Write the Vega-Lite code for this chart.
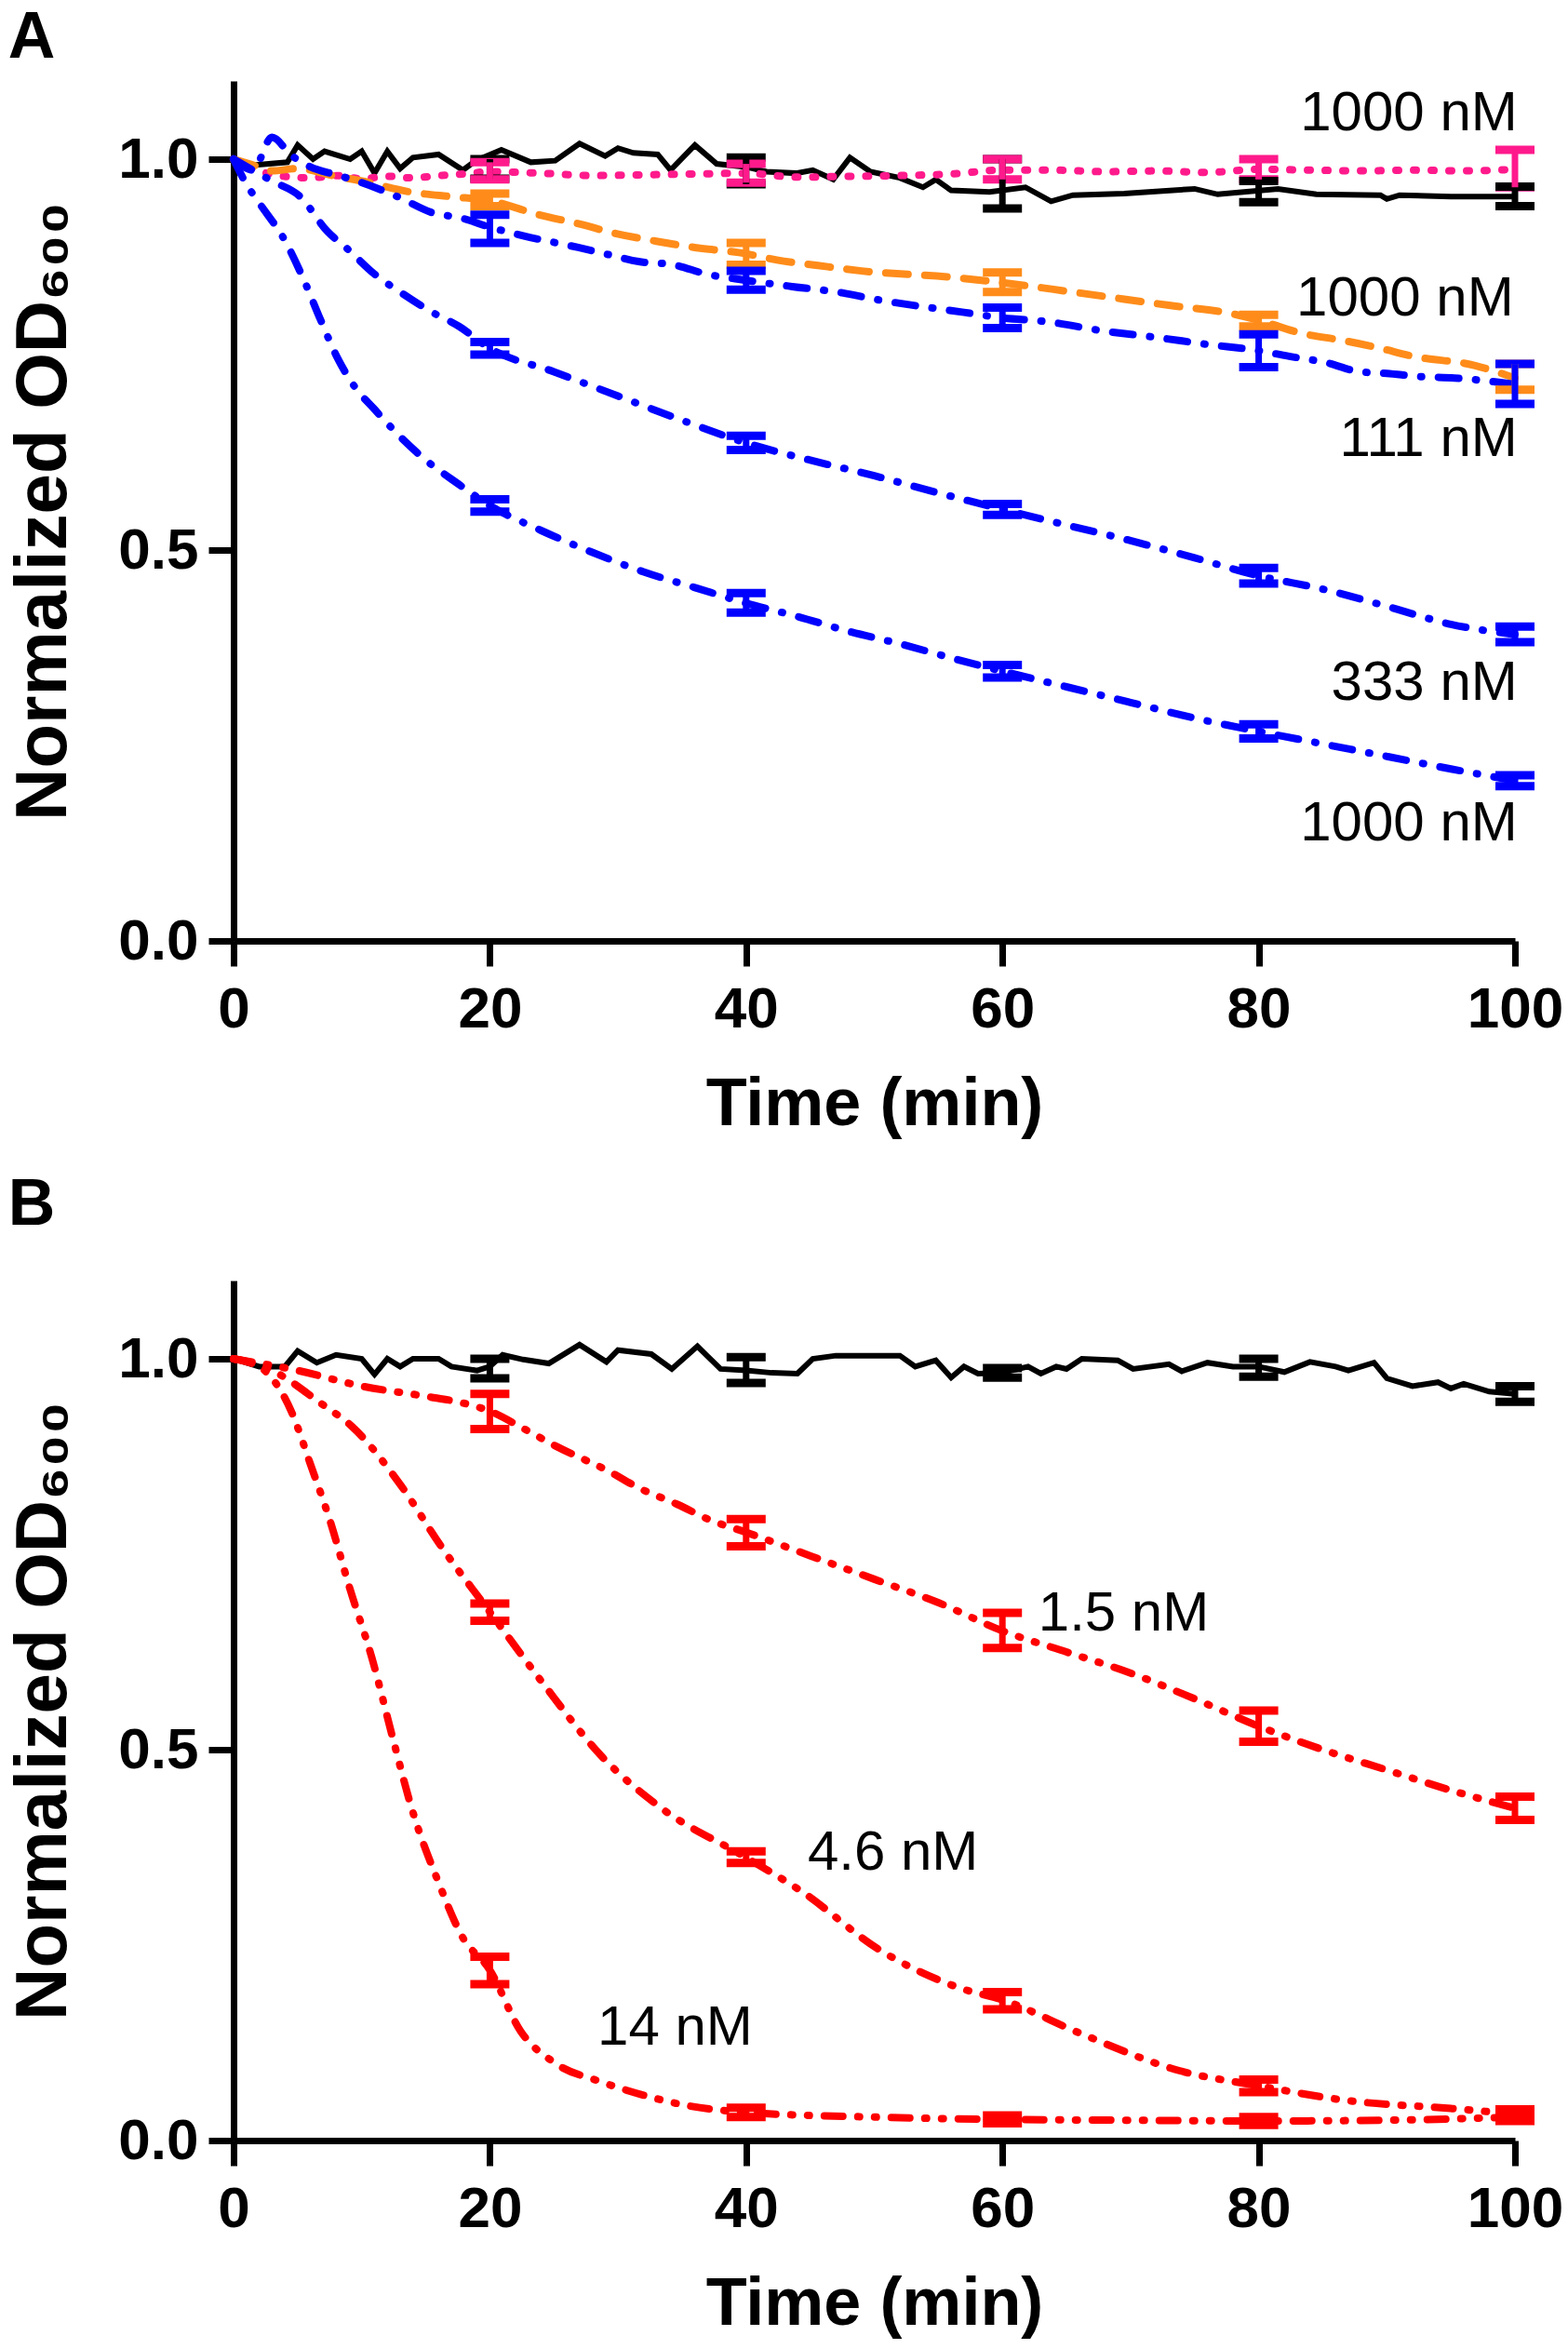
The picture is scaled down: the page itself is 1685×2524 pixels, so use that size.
{
  "$schema": "https://vega.github.io/schema/vega-lite/v6.json",
  "background": "white",
  "padding": {"left": 8, "top": 6, "right": 4, "bottom": 4},
  "spacing": 38,
  "resolve": {"scale": {"color": "independent", "strokeDash": "independent"}},
  "config": {
    "view": {"stroke": null},
    "font": "Liberation Sans",
    "axis": {
      "grid": false,
      "domainColor": "black",
      "domainWidth": 7,
      "tickColor": "black",
      "tickWidth": 7,
      "tickSize": 27,
      "labelFont": "Liberation Sans",
      "labelFontSize": 62,
      "labelFontWeight": "bold",
      "labelColor": "black",
      "labelOverlap": false,
      "labelFlush": false,
      "titleFont": "Liberation Sans",
      "titleFontSize": 72,
      "titleFontWeight": "bold",
      "titleColor": "black"
    },
    "title": {"fontSize": 70, "fontWeight": "bold", "anchor": "start", "frame": "bounds", "color": "black", "font": "Liberation Sans"}
  },
  "datasets": {
    "ctrlA": [
      {"t": 0, "v": 1.0}, {"t": 1.3, "v": 0.992}, {"t": 4.2, "v": 0.996}, {"t": 5.0, "v": 1.018}, {"t": 6.2, "v": 1.0},
      {"t": 7.1, "v": 1.01}, {"t": 9.1, "v": 1.0}, {"t": 10.0, "v": 1.01}, {"t": 11.0, "v": 0.982}, {"t": 12.0, "v": 1.01},
      {"t": 13.0, "v": 0.988}, {"t": 14.0, "v": 1.002}, {"t": 16.0, "v": 1.006}, {"t": 17.9, "v": 0.986}, {"t": 18.9, "v": 0.998},
      {"t": 20.9, "v": 1.012}, {"t": 23.2, "v": 0.996}, {"t": 25.1, "v": 0.998}, {"t": 27.0, "v": 1.02}, {"t": 29.0, "v": 1.004},
      {"t": 30.0, "v": 1.014}, {"t": 31.2, "v": 1.008}, {"t": 33.1, "v": 1.006}, {"t": 34.1, "v": 0.986}, {"t": 36.0, "v": 1.018},
      {"t": 37.7, "v": 0.994}, {"t": 40.0, "v": 0.99}, {"t": 41.6, "v": 0.984}, {"t": 43.9, "v": 0.982}, {"t": 45.2, "v": 0.986},
      {"t": 46.8, "v": 0.974}, {"t": 48.1, "v": 1.002}, {"t": 49.7, "v": 0.984}, {"t": 52.0, "v": 0.976}, {"t": 53.8, "v": 0.964},
      {"t": 54.8, "v": 0.974}, {"t": 56.0, "v": 0.96}, {"t": 59.0, "v": 0.958}, {"t": 61.8, "v": 0.964}, {"t": 63.8, "v": 0.946},
      {"t": 65.5, "v": 0.954}, {"t": 69.5, "v": 0.956}, {"t": 75.0, "v": 0.962}, {"t": 76.8, "v": 0.955}, {"t": 81.5, "v": 0.962},
      {"t": 84.5, "v": 0.955}, {"t": 89.5, "v": 0.954}, {"t": 90.0, "v": 0.949}, {"t": 91.0, "v": 0.954}, {"t": 95.0, "v": 0.952},
      {"t": 100, "v": 0.952}
    ],
    "curvesA": [
      {"s": "pink 1000 nM", "t": 0, "v": 1.0}, {"s": "pink 1000 nM", "t": 2, "v": 0.985}, {"s": "pink 1000 nM", "t": 4, "v": 0.978},
      {"s": "pink 1000 nM", "t": 6, "v": 0.976}, {"s": "pink 1000 nM", "t": 8, "v": 0.979}, {"s": "pink 1000 nM", "t": 10, "v": 0.975},
      {"s": "pink 1000 nM", "t": 12, "v": 0.978}, {"s": "pink 1000 nM", "t": 14, "v": 0.976}, {"s": "pink 1000 nM", "t": 16, "v": 0.979},
      {"s": "pink 1000 nM", "t": 18, "v": 0.981}, {"s": "pink 1000 nM", "t": 20, "v": 0.984}, {"s": "pink 1000 nM", "t": 24, "v": 0.982},
      {"s": "pink 1000 nM", "t": 28, "v": 0.979}, {"s": "pink 1000 nM", "t": 32, "v": 0.98}, {"s": "pink 1000 nM", "t": 36, "v": 0.981},
      {"s": "pink 1000 nM", "t": 40, "v": 0.982}, {"s": "pink 1000 nM", "t": 44, "v": 0.977}, {"s": "pink 1000 nM", "t": 48, "v": 0.978},
      {"s": "pink 1000 nM", "t": 52, "v": 0.979}, {"s": "pink 1000 nM", "t": 56, "v": 0.981}, {"s": "pink 1000 nM", "t": 60, "v": 0.986},
      {"s": "pink 1000 nM", "t": 64, "v": 0.986}, {"s": "pink 1000 nM", "t": 68, "v": 0.984}, {"s": "pink 1000 nM", "t": 72, "v": 0.985},
      {"s": "pink 1000 nM", "t": 76, "v": 0.983}, {"s": "pink 1000 nM", "t": 80, "v": 0.987}, {"s": "pink 1000 nM", "t": 84, "v": 0.986},
      {"s": "pink 1000 nM", "t": 88, "v": 0.985}, {"s": "pink 1000 nM", "t": 92, "v": 0.986}, {"s": "pink 1000 nM", "t": 96, "v": 0.985},
      {"s": "pink 1000 nM", "t": 100, "v": 0.987},
      {"s": "orange 1000 nM", "t": 0, "v": 1.0}, {"s": "orange 1000 nM", "t": 2, "v": 0.99}, {"s": "orange 1000 nM", "t": 3, "v": 0.985},
      {"s": "orange 1000 nM", "t": 5, "v": 0.988}, {"s": "orange 1000 nM", "t": 8, "v": 0.978}, {"s": "orange 1000 nM", "t": 10, "v": 0.972},
      {"s": "orange 1000 nM", "t": 13.8, "v": 0.958}, {"s": "orange 1000 nM", "t": 17, "v": 0.952}, {"s": "orange 1000 nM", "t": 20, "v": 0.947},
      {"s": "orange 1000 nM", "t": 23.8, "v": 0.929}, {"s": "orange 1000 nM", "t": 27, "v": 0.917}, {"s": "orange 1000 nM", "t": 29.8, "v": 0.905},
      {"s": "orange 1000 nM", "t": 33, "v": 0.895}, {"s": "orange 1000 nM", "t": 36, "v": 0.887}, {"s": "orange 1000 nM", "t": 40, "v": 0.879},
      {"s": "orange 1000 nM", "t": 42.4, "v": 0.871}, {"s": "orange 1000 nM", "t": 45.6, "v": 0.864}, {"s": "orange 1000 nM", "t": 49, "v": 0.857},
      {"s": "orange 1000 nM", "t": 56, "v": 0.849}, {"s": "orange 1000 nM", "t": 60, "v": 0.842}, {"s": "orange 1000 nM", "t": 65.5, "v": 0.83},
      {"s": "orange 1000 nM", "t": 73, "v": 0.813}, {"s": "orange 1000 nM", "t": 78, "v": 0.802}, {"s": "orange 1000 nM", "t": 80, "v": 0.794},
      {"s": "orange 1000 nM", "t": 83.4, "v": 0.777}, {"s": "orange 1000 nM", "t": 86.6, "v": 0.768}, {"s": "orange 1000 nM", "t": 89.5, "v": 0.758},
      {"s": "orange 1000 nM", "t": 92, "v": 0.748}, {"s": "orange 1000 nM", "t": 96.9, "v": 0.736}, {"s": "orange 1000 nM", "t": 100, "v": 0.72},
      {"s": "blue 111 nM", "t": 0, "v": 1.0}, {"s": "blue 111 nM", "t": 1.5, "v": 0.986}, {"s": "blue 111 nM", "t": 3, "v": 1.028},
      {"s": "blue 111 nM", "t": 4.5, "v": 1.005}, {"s": "blue 111 nM", "t": 6, "v": 0.99}, {"s": "blue 111 nM", "t": 8, "v": 0.98},
      {"s": "blue 111 nM", "t": 10, "v": 0.97}, {"s": "blue 111 nM", "t": 12.8, "v": 0.952}, {"s": "blue 111 nM", "t": 15.6, "v": 0.931},
      {"s": "blue 111 nM", "t": 17.7, "v": 0.925}, {"s": "blue 111 nM", "t": 20, "v": 0.913}, {"s": "blue 111 nM", "t": 22.6, "v": 0.902},
      {"s": "blue 111 nM", "t": 26.9, "v": 0.887}, {"s": "blue 111 nM", "t": 29.5, "v": 0.877}, {"s": "blue 111 nM", "t": 31.6, "v": 0.869},
      {"s": "blue 111 nM", "t": 34.3, "v": 0.865}, {"s": "blue 111 nM", "t": 36.9, "v": 0.853}, {"s": "blue 111 nM", "t": 40, "v": 0.845},
      {"s": "blue 111 nM", "t": 43.6, "v": 0.837}, {"s": "blue 111 nM", "t": 47.5, "v": 0.829}, {"s": "blue 111 nM", "t": 50, "v": 0.821},
      {"s": "blue 111 nM", "t": 57, "v": 0.804}, {"s": "blue 111 nM", "t": 60, "v": 0.797}, {"s": "blue 111 nM", "t": 63.5, "v": 0.792},
      {"s": "blue 111 nM", "t": 68, "v": 0.78}, {"s": "blue 111 nM", "t": 72, "v": 0.772}, {"s": "blue 111 nM", "t": 76, "v": 0.763},
      {"s": "blue 111 nM", "t": 80, "v": 0.755}, {"s": "blue 111 nM", "t": 82.3, "v": 0.748}, {"s": "blue 111 nM", "t": 85.2, "v": 0.74},
      {"s": "blue 111 nM", "t": 87.9, "v": 0.728}, {"s": "blue 111 nM", "t": 90, "v": 0.726}, {"s": "blue 111 nM", "t": 92.4, "v": 0.722},
      {"s": "blue 111 nM", "t": 95.3, "v": 0.72}, {"s": "blue 111 nM", "t": 100, "v": 0.712},
      {"s": "blue 333 nM", "t": 0, "v": 1.0}, {"s": "blue 333 nM", "t": 3, "v": 0.972}, {"s": "blue 333 nM", "t": 5.2, "v": 0.952},
      {"s": "blue 333 nM", "t": 7.3, "v": 0.908}, {"s": "blue 333 nM", "t": 8.9, "v": 0.885}, {"s": "blue 333 nM", "t": 11, "v": 0.853},
      {"s": "blue 333 nM", "t": 13, "v": 0.83}, {"s": "blue 333 nM", "t": 15.3, "v": 0.806}, {"s": "blue 333 nM", "t": 17.6, "v": 0.786},
      {"s": "blue 333 nM", "t": 20, "v": 0.758}, {"s": "blue 333 nM", "t": 25, "v": 0.728}, {"s": "blue 333 nM", "t": 30, "v": 0.697},
      {"s": "blue 333 nM", "t": 35, "v": 0.666}, {"s": "blue 333 nM", "t": 40, "v": 0.637}, {"s": "blue 333 nM", "t": 45, "v": 0.615},
      {"s": "blue 333 nM", "t": 50, "v": 0.595}, {"s": "blue 333 nM", "t": 55, "v": 0.573}, {"s": "blue 333 nM", "t": 60, "v": 0.552},
      {"s": "blue 333 nM", "t": 65, "v": 0.532}, {"s": "blue 333 nM", "t": 70, "v": 0.512}, {"s": "blue 333 nM", "t": 75, "v": 0.49},
      {"s": "blue 333 nM", "t": 80, "v": 0.467}, {"s": "blue 333 nM", "t": 85, "v": 0.45}, {"s": "blue 333 nM", "t": 90, "v": 0.428},
      {"s": "blue 333 nM", "t": 95, "v": 0.405}, {"s": "blue 333 nM", "t": 100, "v": 0.392},
      {"s": "blue 1000 nM", "t": 0, "v": 1.0}, {"s": "blue 1000 nM", "t": 1, "v": 0.968}, {"s": "blue 1000 nM", "t": 2, "v": 0.944},
      {"s": "blue 1000 nM", "t": 4.1, "v": 0.893}, {"s": "blue 1000 nM", "t": 5.5, "v": 0.845}, {"s": "blue 1000 nM", "t": 6.8, "v": 0.794},
      {"s": "blue 1000 nM", "t": 8.1, "v": 0.746}, {"s": "blue 1000 nM", "t": 9.4, "v": 0.71}, {"s": "blue 1000 nM", "t": 11, "v": 0.68},
      {"s": "blue 1000 nM", "t": 13, "v": 0.645}, {"s": "blue 1000 nM", "t": 15, "v": 0.615}, {"s": "blue 1000 nM", "t": 17.5, "v": 0.585},
      {"s": "blue 1000 nM", "t": 20, "v": 0.557}, {"s": "blue 1000 nM", "t": 24, "v": 0.525}, {"s": "blue 1000 nM", "t": 28, "v": 0.497},
      {"s": "blue 1000 nM", "t": 32, "v": 0.472}, {"s": "blue 1000 nM", "t": 36, "v": 0.452}, {"s": "blue 1000 nM", "t": 40, "v": 0.432},
      {"s": "blue 1000 nM", "t": 44, "v": 0.415}, {"s": "blue 1000 nM", "t": 48, "v": 0.396}, {"s": "blue 1000 nM", "t": 52, "v": 0.38},
      {"s": "blue 1000 nM", "t": 56, "v": 0.362}, {"s": "blue 1000 nM", "t": 60, "v": 0.345}, {"s": "blue 1000 nM", "t": 65, "v": 0.325},
      {"s": "blue 1000 nM", "t": 70, "v": 0.305}, {"s": "blue 1000 nM", "t": 75, "v": 0.285}, {"s": "blue 1000 nM", "t": 80, "v": 0.268},
      {"s": "blue 1000 nM", "t": 85, "v": 0.252}, {"s": "blue 1000 nM", "t": 90, "v": 0.236}, {"s": "blue 1000 nM", "t": 95, "v": 0.22},
      {"s": "blue 1000 nM", "t": 100, "v": 0.205}
    ],
    "errA": [
      {"s": "control", "t": 20, "lo": 0.975, "hi": 1.0}, {"s": "control", "t": 40, "lo": 0.968, "hi": 1.002},
      {"s": "control", "t": 60, "lo": 0.937, "hi": 1.0}, {"s": "control", "t": 80, "lo": 0.945, "hi": 0.972},
      {"s": "control", "t": 100, "lo": 0.94, "hi": 0.965},
      {"s": "pink 1000 nM", "t": 20, "lo": 0.974, "hi": 0.996}, {"s": "pink 1000 nM", "t": 40, "lo": 0.97, "hi": 0.994},
      {"s": "pink 1000 nM", "t": 60, "lo": 0.974, "hi": 1.0}, {"s": "pink 1000 nM", "t": 80, "lo": 0.974, "hi": 1.0},
      {"s": "pink 1000 nM", "t": 100, "lo": 0.964, "hi": 1.012},
      {"s": "orange 1000 nM", "t": 20, "lo": 0.94, "hi": 0.956}, {"s": "orange 1000 nM", "t": 40, "lo": 0.865, "hi": 0.893},
      {"s": "orange 1000 nM", "t": 60, "lo": 0.83, "hi": 0.855}, {"s": "orange 1000 nM", "t": 80, "lo": 0.786, "hi": 0.801},
      {"s": "orange 1000 nM", "t": 100, "lo": 0.705, "hi": 0.738},
      {"s": "blue 111 nM", "t": 20, "lo": 0.893, "hi": 0.929}, {"s": "blue 111 nM", "t": 40, "lo": 0.833, "hi": 0.857},
      {"s": "blue 111 nM", "t": 60, "lo": 0.784, "hi": 0.81}, {"s": "blue 111 nM", "t": 80, "lo": 0.734, "hi": 0.776},
      {"s": "blue 111 nM", "t": 100, "lo": 0.687, "hi": 0.738},
      {"s": "blue 333 nM", "t": 20, "lo": 0.75, "hi": 0.766}, {"s": "blue 333 nM", "t": 40, "lo": 0.628, "hi": 0.646},
      {"s": "blue 333 nM", "t": 60, "lo": 0.545, "hi": 0.559}, {"s": "blue 333 nM", "t": 80, "lo": 0.457, "hi": 0.477},
      {"s": "blue 333 nM", "t": 100, "lo": 0.382, "hi": 0.402},
      {"s": "blue 1000 nM", "t": 20, "lo": 0.549, "hi": 0.565}, {"s": "blue 1000 nM", "t": 40, "lo": 0.42, "hi": 0.445},
      {"s": "blue 1000 nM", "t": 60, "lo": 0.337, "hi": 0.353}, {"s": "blue 1000 nM", "t": 80, "lo": 0.259, "hi": 0.277},
      {"s": "blue 1000 nM", "t": 100, "lo": 0.198, "hi": 0.212}
    ],
    "labelsA": [
      {"label": "1000 nM", "t": 100.2, "v": 1.058},
      {"label": "1000 nM", "t": 99.9, "v": 0.821},
      {"label": "111 nM", "t": 100.2, "v": 0.642},
      {"label": "333 nM", "t": 100.2, "v": 0.33},
      {"label": "1000 nM", "t": 100.2, "v": 0.15}
    ],
    "ctrlB": [
      {"t": 0, "v": 1.0}, {"t": 2, "v": 0.99}, {"t": 4, "v": 0.99}, {"t": 5, "v": 1.01}, {"t": 6.5, "v": 0.995},
      {"t": 8, "v": 1.005}, {"t": 10, "v": 1.0}, {"t": 11, "v": 0.98}, {"t": 12, "v": 1.0}, {"t": 13, "v": 0.99},
      {"t": 14, "v": 1.0}, {"t": 16, "v": 1.0}, {"t": 17, "v": 0.99}, {"t": 19, "v": 0.985}, {"t": 20, "v": 0.99},
      {"t": 21, "v": 1.005}, {"t": 22.6, "v": 0.999}, {"t": 24.6, "v": 0.994}, {"t": 27.0, "v": 1.018}, {"t": 29.1, "v": 0.996},
      {"t": 30.0, "v": 1.011}, {"t": 32.6, "v": 1.006}, {"t": 34.2, "v": 0.987}, {"t": 36.2, "v": 1.016}, {"t": 38.0, "v": 0.987},
      {"t": 40, "v": 0.985}, {"t": 42.0, "v": 0.982}, {"t": 44.0, "v": 0.981}, {"t": 45.2, "v": 1.0}, {"t": 47.0, "v": 1.004},
      {"t": 52.0, "v": 1.004}, {"t": 53.2, "v": 0.99}, {"t": 54.8, "v": 0.998}, {"t": 56.0, "v": 0.976}, {"t": 57.0, "v": 0.99},
      {"t": 58.1, "v": 0.981}, {"t": 60, "v": 0.982}, {"t": 62.0, "v": 0.99}, {"t": 63.0, "v": 0.981}, {"t": 64.2, "v": 0.99},
      {"t": 65.0, "v": 0.987}, {"t": 66.2, "v": 1.0}, {"t": 69.0, "v": 0.998}, {"t": 70.2, "v": 0.987}, {"t": 73.0, "v": 0.993},
      {"t": 74.0, "v": 0.984}, {"t": 76, "v": 0.995}, {"t": 78, "v": 0.99}, {"t": 80, "v": 0.99}, {"t": 82, "v": 0.983},
      {"t": 84, "v": 0.996}, {"t": 86, "v": 0.99}, {"t": 87, "v": 0.985}, {"t": 89, "v": 0.995}, {"t": 90, "v": 0.975},
      {"t": 92, "v": 0.965}, {"t": 94, "v": 0.97}, {"t": 95, "v": 0.962}, {"t": 96, "v": 0.968}, {"t": 98, "v": 0.958},
      {"t": 100, "v": 0.955}
    ],
    "curvesB": [
      {"s": "red 1.5 nM", "t": 0, "v": 1.0}, {"s": "red 1.5 nM", "t": 5, "v": 0.985}, {"s": "red 1.5 nM", "t": 10, "v": 0.965},
      {"s": "red 1.5 nM", "t": 15, "v": 0.952}, {"s": "red 1.5 nM", "t": 18, "v": 0.943}, {"s": "red 1.5 nM", "t": 20, "v": 0.933},
      {"s": "red 1.5 nM", "t": 22.6, "v": 0.911}, {"s": "red 1.5 nM", "t": 25.3, "v": 0.887}, {"s": "red 1.5 nM", "t": 29.3, "v": 0.856},
      {"s": "red 1.5 nM", "t": 31.6, "v": 0.835}, {"s": "red 1.5 nM", "t": 34.6, "v": 0.814}, {"s": "red 1.5 nM", "t": 37.3, "v": 0.793},
      {"s": "red 1.5 nM", "t": 40, "v": 0.778}, {"s": "red 1.5 nM", "t": 45, "v": 0.748}, {"s": "red 1.5 nM", "t": 50, "v": 0.718},
      {"s": "red 1.5 nM", "t": 55, "v": 0.688}, {"s": "red 1.5 nM", "t": 60, "v": 0.652}, {"s": "red 1.5 nM", "t": 65, "v": 0.625},
      {"s": "red 1.5 nM", "t": 70, "v": 0.598}, {"s": "red 1.5 nM", "t": 75, "v": 0.565}, {"s": "red 1.5 nM", "t": 80, "v": 0.53},
      {"s": "red 1.5 nM", "t": 85, "v": 0.5}, {"s": "red 1.5 nM", "t": 90, "v": 0.474}, {"s": "red 1.5 nM", "t": 95, "v": 0.448},
      {"s": "red 1.5 nM", "t": 100, "v": 0.425},
      {"s": "red 4.6 nM", "t": 0, "v": 1.0}, {"s": "red 4.6 nM", "t": 3, "v": 0.985}, {"s": "red 4.6 nM", "t": 6.9, "v": 0.942},
      {"s": "red 4.6 nM", "t": 9.2, "v": 0.914}, {"s": "red 4.6 nM", "t": 13.1, "v": 0.837}, {"s": "red 4.6 nM", "t": 16.2, "v": 0.76},
      {"s": "red 4.6 nM", "t": 20, "v": 0.676}, {"s": "red 4.6 nM", "t": 24, "v": 0.588}, {"s": "red 4.6 nM", "t": 28.7, "v": 0.492},
      {"s": "red 4.6 nM", "t": 33.4, "v": 0.425}, {"s": "red 4.6 nM", "t": 40, "v": 0.362}, {"s": "red 4.6 nM", "t": 44.3, "v": 0.319},
      {"s": "red 4.6 nM", "t": 50.5, "v": 0.243}, {"s": "red 4.6 nM", "t": 56.7, "v": 0.195}, {"s": "red 4.6 nM", "t": 60, "v": 0.18},
      {"s": "red 4.6 nM", "t": 66.1, "v": 0.137}, {"s": "red 4.6 nM", "t": 73.9, "v": 0.089}, {"s": "red 4.6 nM", "t": 80, "v": 0.07},
      {"s": "red 4.6 nM", "t": 87, "v": 0.051}, {"s": "red 4.6 nM", "t": 95, "v": 0.041}, {"s": "red 4.6 nM", "t": 100, "v": 0.034},
      {"s": "red 14 nM", "t": 0, "v": 1.0}, {"s": "red 14 nM", "t": 2, "v": 0.99}, {"s": "red 14 nM", "t": 4.5, "v": 0.933},
      {"s": "red 14 nM", "t": 6, "v": 0.865}, {"s": "red 14 nM", "t": 7.6, "v": 0.789}, {"s": "red 14 nM", "t": 9, "v": 0.71},
      {"s": "red 14 nM", "t": 10.8, "v": 0.617}, {"s": "red 14 nM", "t": 12.5, "v": 0.51}, {"s": "red 14 nM", "t": 13.9, "v": 0.425},
      {"s": "red 14 nM", "t": 16, "v": 0.33}, {"s": "red 14 nM", "t": 17.8, "v": 0.262}, {"s": "red 14 nM", "t": 20, "v": 0.218},
      {"s": "red 14 nM", "t": 22.4, "v": 0.14}, {"s": "red 14 nM", "t": 25, "v": 0.1}, {"s": "red 14 nM", "t": 28.7, "v": 0.075},
      {"s": "red 14 nM", "t": 32, "v": 0.058}, {"s": "red 14 nM", "t": 35, "v": 0.046}, {"s": "red 14 nM", "t": 40, "v": 0.036},
      {"s": "red 14 nM", "t": 50, "v": 0.03}, {"s": "red 14 nM", "t": 60, "v": 0.027}, {"s": "red 14 nM", "t": 70, "v": 0.026},
      {"s": "red 14 nM", "t": 80, "v": 0.025}, {"s": "red 14 nM", "t": 90, "v": 0.026}, {"s": "red 14 nM", "t": 100, "v": 0.03}
    ],
    "errB": [
      {"s": "control", "t": 20, "lo": 0.975, "hi": 1.0}, {"s": "control", "t": 40, "lo": 0.969, "hi": 1.002},
      {"s": "control", "t": 60, "lo": 0.976, "hi": 0.988}, {"s": "control", "t": 80, "lo": 0.977, "hi": 1.0},
      {"s": "control", "t": 100, "lo": 0.945, "hi": 0.965},
      {"s": "red 1.5 nM", "t": 20, "lo": 0.91, "hi": 0.955}, {"s": "red 1.5 nM", "t": 40, "lo": 0.76, "hi": 0.795},
      {"s": "red 1.5 nM", "t": 60, "lo": 0.63, "hi": 0.675}, {"s": "red 1.5 nM", "t": 80, "lo": 0.51, "hi": 0.55},
      {"s": "red 1.5 nM", "t": 100, "lo": 0.41, "hi": 0.44},
      {"s": "red 4.6 nM", "t": 20, "lo": 0.665, "hi": 0.687}, {"s": "red 4.6 nM", "t": 40, "lo": 0.355, "hi": 0.37},
      {"s": "red 4.6 nM", "t": 60, "lo": 0.168, "hi": 0.19}, {"s": "red 4.6 nM", "t": 80, "lo": 0.062, "hi": 0.078},
      {"s": "red 4.6 nM", "t": 100, "lo": 0.028, "hi": 0.04},
      {"s": "red 14 nM", "t": 20, "lo": 0.2, "hi": 0.235}, {"s": "red 14 nM", "t": 40, "lo": 0.03, "hi": 0.042},
      {"s": "red 14 nM", "t": 60, "lo": 0.022, "hi": 0.032}, {"s": "red 14 nM", "t": 80, "lo": 0.02, "hi": 0.03},
      {"s": "red 14 nM", "t": 100, "lo": 0.025, "hi": 0.037}
    ],
    "labelsB": [
      {"label": "1.5 nM", "t": 62.8, "v": 0.674},
      {"label": "4.6 nM", "t": 44.8, "v": 0.368},
      {"label": "14 nM", "t": 28.4, "v": 0.144}
    ]
  },
  "vconcat": [
    {
      "title": {"text": "A", "offset": 10},
      "width": 1377,
      "height": 924,
      "layer": [
        {
          "data": {"name": "ctrlA"},
          "mark": {"type": "line", "color": "black", "strokeWidth": 6, "strokeJoin": "miter"},
          "encoding": {
            "x": {"field": "t", "type": "quantitative", "title": "Time (min)", "scale": {"domain": [0, 100], "nice": false},
                  "axis": {"values": [0, 20, 40, 60, 80, 100], "labelPadding": 16, "titlePadding": 36}},
            "y": {"field": "v", "type": "quantitative", "title": "Normalized OD₆₀₀", "scale": {"domain": [0, 1.1], "nice": false, "zero": false},
                  "axis": {"values": [0, 0.5, 1], "format": ".1f", "titleFontSize": 78, "labelPadding": 11, "titlePadding": 40}}
          }
        },
        {
          "data": {"name": "curvesA"},
          "mark": {"type": "line", "strokeWidth": 8, "strokeCap": "round", "interpolate": "monotone"},
          "encoding": {
            "x": {"field": "t", "type": "quantitative", "title": "Time (min)"},
            "y": {"field": "v", "type": "quantitative", "title": "Normalized OD₆₀₀"},
            "color": {"field": "s", "type": "nominal", "legend": null,
                      "scale": {"domain": ["control", "pink 1000 nM", "orange 1000 nM", "blue 111 nM", "blue 333 nM", "blue 1000 nM"],
                                "range": ["#000000", "#FF1A8C", "#FF8C1A", "#0000FF", "#0000FF", "#0000FF"]}},
            "strokeDash": {"field": "s", "type": "nominal", "legend": null,
                           "scale": {"domain": ["pink 1000 nM", "orange 1000 nM", "blue 111 nM", "blue 333 nM", "blue 1000 nM"],
                                     "range": [[3, 16], [24, 18], [22, 18, 1, 18], [22, 18, 1, 18], [22, 18, 1, 18]]}}
          }
        },
        {
          "data": {"name": "errA"},
          "mark": {"type": "errorbar", "thickness": 7, "ticks": {"size": 42, "thickness": 9, "opacity": 1}, "rule": {"strokeWidth": 7, "opacity": 1}},
          "encoding": {
            "x": {"field": "t", "type": "quantitative", "title": "Time (min)"},
            "y": {"field": "lo", "type": "quantitative", "title": "Normalized OD₆₀₀"},
            "y2": {"field": "hi"},
            "color": {"field": "s", "type": "nominal", "legend": null,
                      "scale": {"domain": ["control", "pink 1000 nM", "orange 1000 nM", "blue 111 nM", "blue 333 nM", "blue 1000 nM"],
                                "range": ["#000000", "#FF1A8C", "#FF8C1A", "#0000FF", "#0000FF", "#0000FF"]}}
          }
        },
        {
          "data": {"name": "labelsA"},
          "mark": {"type": "text", "align": "right", "baseline": "middle", "fontSize": 60, "color": "black", "font": "Liberation Sans"},
          "encoding": {
            "x": {"field": "t", "type": "quantitative", "title": "Time (min)"},
            "y": {"field": "v", "type": "quantitative", "title": "Normalized OD₆₀₀"},
            "text": {"field": "label"}
          }
        }
      ]
    },
    {
      "title": {"text": "B", "offset": 45},
      "width": 1377,
      "height": 924,
      "layer": [
        {
          "data": {"name": "ctrlB"},
          "mark": {"type": "line", "color": "black", "strokeWidth": 6, "strokeJoin": "miter"},
          "encoding": {
            "x": {"field": "t", "type": "quantitative", "title": "Time (min)", "scale": {"domain": [0, 100], "nice": false},
                  "axis": {"values": [0, 20, 40, 60, 80, 100], "labelPadding": 16, "titlePadding": 36}},
            "y": {"field": "v", "type": "quantitative", "title": "Normalized OD₆₀₀", "scale": {"domain": [0, 1.1], "nice": false, "zero": false},
                  "axis": {"values": [0, 0.5, 1], "format": ".1f", "titleFontSize": 78, "labelPadding": 11, "titlePadding": 40}}
          }
        },
        {
          "data": {"name": "curvesB"},
          "mark": {"type": "line", "strokeWidth": 8, "strokeCap": "round", "interpolate": "monotone"},
          "encoding": {
            "x": {"field": "t", "type": "quantitative", "title": "Time (min)"},
            "y": {"field": "v", "type": "quantitative", "title": "Normalized OD₆₀₀"},
            "color": {"field": "s", "type": "nominal", "legend": null,
                      "scale": {"domain": ["control", "red 1.5 nM", "red 4.6 nM", "red 14 nM"],
                                "range": ["#000000", "#FF0000", "#FF0000", "#FF0000"]}},
            "strokeDash": {"field": "s", "type": "nominal", "legend": null,
                           "scale": {"domain": ["red 1.5 nM", "red 4.6 nM", "red 14 nM"],
                                     "range": [[20, 16, 2, 16, 2, 16], [20, 16, 2, 16, 2, 16], [20, 16, 2, 16, 2, 16]]}}
          }
        },
        {
          "data": {"name": "errB"},
          "mark": {"type": "errorbar", "thickness": 7, "ticks": {"size": 42, "thickness": 9, "opacity": 1}, "rule": {"strokeWidth": 7, "opacity": 1}},
          "encoding": {
            "x": {"field": "t", "type": "quantitative", "title": "Time (min)"},
            "y": {"field": "lo", "type": "quantitative", "title": "Normalized OD₆₀₀"},
            "y2": {"field": "hi"},
            "color": {"field": "s", "type": "nominal", "legend": null,
                      "scale": {"domain": ["control", "red 1.5 nM", "red 4.6 nM", "red 14 nM"],
                                "range": ["#000000", "#FF0000", "#FF0000", "#FF0000"]}}
          }
        },
        {
          "data": {"name": "labelsB"},
          "mark": {"type": "text", "align": "left", "baseline": "middle", "fontSize": 60, "color": "black", "font": "Liberation Sans"},
          "encoding": {
            "x": {"field": "t", "type": "quantitative", "title": "Time (min)"},
            "y": {"field": "v", "type": "quantitative", "title": "Normalized OD₆₀₀"},
            "text": {"field": "label"}
          }
        }
      ]
    }
  ]
}
